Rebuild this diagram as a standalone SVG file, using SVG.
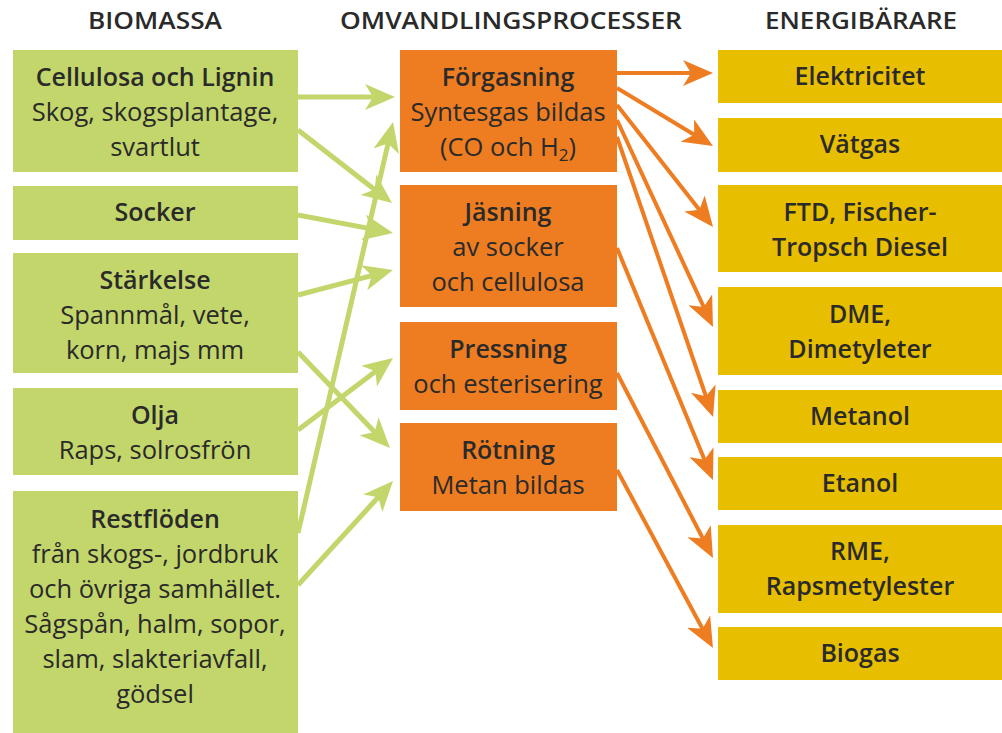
<svg xmlns="http://www.w3.org/2000/svg" width="1002" height="733" viewBox="0 0 1002 733">
<defs>
<style>
.g{fill:#c3d66b}
.o{fill:#ee7d22}
.y{fill:#e8be00}
text{font-family:"Open Sans","Noto Sans","Liberation Sans",sans-serif;font-size:25.5px;fill:#2a2a2a;text-anchor:middle}
.b{font-weight:600;font-size:25px}
.h{font-weight:600;font-size:23px}
.gl{stroke:#c3d66b;stroke-width:5;fill:none}
.ol{stroke:#ee7d22;stroke-width:4;fill:none}
</style>
<marker id="ag" viewBox="0 0 30 26" refX="12" refY="13" markerWidth="30" markerHeight="26" markerUnits="userSpaceOnUse" orient="auto">
<path d="M0,0 L30,13 L0,26 L8,13 z" fill="#c3d66b"/>
</marker>
<marker id="ao" viewBox="0 0 30 26" refX="12" refY="13" markerWidth="30" markerHeight="26" markerUnits="userSpaceOnUse" orient="auto">
<path d="M0,0 L30,13 L0,26 L8,13 z" fill="#ee7d22"/>
</marker>
</defs>
<rect width="1002" height="733" fill="#ffffff"/>
<g id="headers">
<text class="h" x="155" y="29" textLength="134" lengthAdjust="spacingAndGlyphs">BIOMASSA</text>
<text class="h" x="511" y="29" textLength="342" lengthAdjust="spacingAndGlyphs">OMVANDLINGSPROCESSER</text>
<text class="h" x="861" y="29" textLength="192" lengthAdjust="spacingAndGlyphs">ENERGIBÄRARE</text>
</g>
<g id="connectors">
<line class="gl" x1="298" y1="97" x2="377" y2="97" marker-end="url(#ag)"/>
<line class="gl" x1="298" y1="130" x2="377.8" y2="192" marker-end="url(#ag)"/>
<line class="gl" x1="298" y1="215" x2="375.3" y2="229.6" marker-end="url(#ag)"/>
<line class="gl" x1="298" y1="533" x2="389" y2="139.5" marker-end="url(#ag)"/>
<line class="gl" x1="298" y1="295" x2="375.6" y2="274.6" marker-end="url(#ag)"/>
<line class="gl" x1="298" y1="352" x2="377.5" y2="435" marker-end="url(#ag)"/>
<line class="gl" x1="298" y1="430" x2="378.7" y2="368.9" marker-end="url(#ag)"/>
<line class="gl" x1="298" y1="585" x2="380.9" y2="494.3" marker-end="url(#ag)"/>
<line class="ol" x1="617" y1="73" x2="695" y2="73" marker-end="url(#ao)"/>
<line class="ol" x1="617" y1="88" x2="697.6" y2="136.7" marker-end="url(#ao)"/>
<line class="ol" x1="617" y1="105" x2="701.9" y2="212.9" marker-end="url(#ao)"/>
<line class="ol" x1="617" y1="120" x2="705.4" y2="310.7" marker-end="url(#ao)"/>
<line class="ol" x1="617" y1="137" x2="707.2" y2="400" marker-end="url(#ao)"/>
<line class="ol" x1="617" y1="248" x2="706.1" y2="463.4" marker-end="url(#ao)"/>
<line class="ol" x1="617" y1="373" x2="704.7" y2="542" marker-end="url(#ao)"/>
<line class="ol" x1="617" y1="470" x2="704.4" y2="632.2" marker-end="url(#ao)"/>
</g>
<g id="cellulosa"><rect class="g" x="13" y="50" width="285" height="122"/>
<text class="b" x="155" y="86">Cellulosa och Lignin</text><text x="155" y="121">Skog, skogsplantage,</text><text x="155" y="156">svartlut</text></g>
<g id="socker"><rect class="g" x="13" y="186" width="285" height="54"/>
<text class="b" x="155" y="221">Socker</text></g>
<g id="starkelse"><rect class="g" x="13" y="253" width="285" height="120"/>
<text class="b" x="155" y="289">Stärkelse</text><text x="155" y="324">Spannmål, vete,</text><text x="155" y="359">korn, majs mm</text></g>
<g id="olja"><rect class="g" x="13" y="388" width="285" height="87"/>
<text class="b" x="155" y="424">Olja</text><text x="155" y="459">Raps, solrosfrön</text></g>
<g id="restfloden"><rect class="g" x="13" y="491" width="285" height="242"/>
<text class="b" x="155" y="528">Restflöden</text><text x="155" y="563">från skogs-, jordbruk</text><text x="155" y="598">och övriga samhället.</text><text x="155" y="633">Sågspån, halm, sopor,</text><text x="155" y="668">slam, slakteriavfall,</text><text x="155" y="703">gödsel</text></g>
<g id="forgasning"><rect class="o" x="400" y="50" width="217" height="122"/>
<text class="b" x="508" y="86">Förgasning</text><text x="508" y="121">Syntesgas bildas</text><text x="508" y="156">(CO och H<tspan font-size="17" dy="5">2</tspan><tspan dy="-5">)</tspan></text></g>
<g id="jasning"><rect class="o" x="400" y="185" width="217" height="122"/>
<text class="b" x="508" y="221">Jäsning</text><text x="508" y="256">av socker</text><text x="508" y="291">och cellulosa</text></g>
<g id="pressning"><rect class="o" x="400" y="322" width="217" height="88"/>
<text class="b" x="508" y="358">Pressning</text><text x="508" y="393">och esterisering</text></g>
<g id="rotning"><rect class="o" x="400" y="423" width="217" height="88"/>
<text class="b" x="508" y="459">Rötning</text><text x="508" y="494">Metan bildas</text></g>
<g id="elektricitet"><rect class="y" x="718" y="50" width="284" height="53"/><text class="b" x="860" y="85">Elektricitet</text></g>
<g id="vatgas"><rect class="y" x="718" y="118" width="284" height="54"/><text class="b" x="860" y="153">Vätgas</text></g>
<g id="ftd"><rect class="y" x="718" y="185" width="284" height="87"/><text class="b" x="860" y="221">FTD, Fischer-</text><text class="b" x="860" y="256">Tropsch Diesel</text></g>
<g id="dme"><rect class="y" x="718" y="287" width="284" height="88"/><text class="b" x="860" y="323">DME,</text><text class="b" x="860" y="358">Dimetyleter</text></g>
<g id="metanol"><rect class="y" x="718" y="390" width="284" height="53"/><text class="b" x="860" y="425">Metanol</text></g>
<g id="etanol"><rect class="y" x="718" y="457" width="284" height="53"/><text class="b" x="860" y="492">Etanol</text></g>
<g id="rme"><rect class="y" x="718" y="525" width="284" height="88"/><text class="b" x="860" y="560">RME,</text><text class="b" x="860" y="595">Rapsmetylester</text></g>
<g id="biogas"><rect class="y" x="718" y="627" width="284" height="53"/><text class="b" x="860" y="662">Biogas</text></g>
</svg>
